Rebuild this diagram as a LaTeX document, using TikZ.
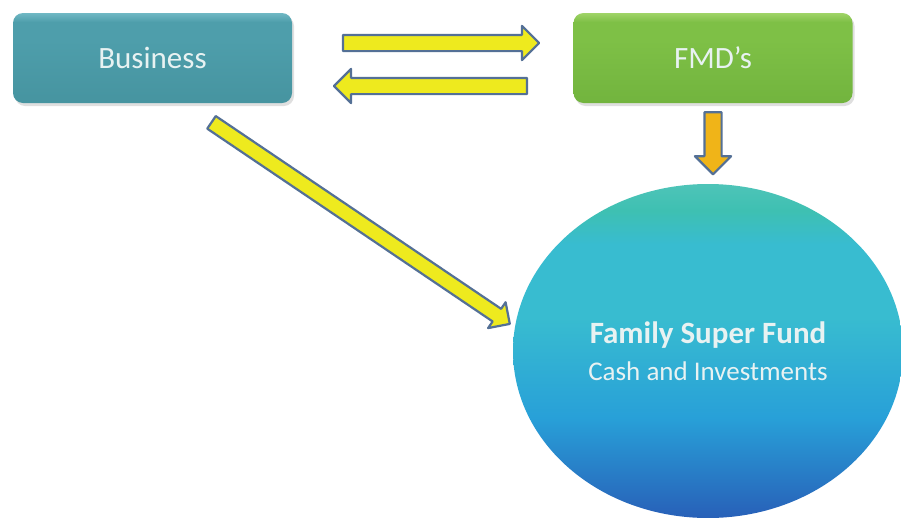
\documentclass[tikz,border=0pt]{standalone}
\usepackage{fontspec}
\setmainfont{Carlito}
\usetikzlibrary{shapes.geometric,shapes.arrows,shadows}
\definecolor{bizT}{RGB}{112,184,196}
\definecolor{bizM}{RGB}{78,158,171}
\definecolor{bizB}{RGB}{70,148,160}
\definecolor{fmdT}{RGB}{160,212,104}
\definecolor{fmdM}{RGB}{126,192,70}
\definecolor{fmdB}{RGB}{114,180,62}
\definecolor{yell}{RGB}{238,234,30}
\definecolor{oran}{RGB}{240,180,24}
\definecolor{edgeblue}{RGB}{84,112,150}
\definecolor{txtw}{RGB}{232,242,242}
\definecolor{fundT}{RGB}{78,196,184}
\definecolor{fundA}{RGB}{62,192,178}
\definecolor{fundB}{RGB}{56,188,208}
\definecolor{fundC}{RGB}{40,160,216}
\definecolor{fundD}{RGB}{40,96,184}
\pgfdeclareverticalshading{fundshade}{100bp}{color(0bp)=(fundD); color(25bp)=(fundD); color(40bp)=(fundC); color(55bp)=(fundB); color(66bp)=(fundB); color(71bp)=(fundA); color(75bp)=(fundT); color(100bp)=(fundT)}
\pgfdeclareverticalshading{bizshade}{100bp}{color(0bp)=(bizB); color(25bp)=(bizB); color(60bp)=(bizM); color(70bp)=(bizM); color(75bp)=(bizT); color(100bp)=(bizT)}
\pgfdeclareverticalshading{fmdshade}{100bp}{color(0bp)=(fmdB); color(25bp)=(fmdB); color(60bp)=(fmdM); color(70bp)=(fmdM); color(75bp)=(fmdT); color(100bp)=(fmdT)}
\begin{document}
\begin{tikzpicture}[x=1pt,y=-1pt,
  boxbase/.style={rectangle, rounded corners=10pt, minimum width=279pt, minimum height=90pt,
    inner sep=0pt, text=txtw, font=\fontsize{31}{36}\selectfont,
    drop shadow={shadow xshift=2pt, shadow yshift=-3pt, opacity=0.25}},
  bizbox/.style={boxbase, shading=bizshade},
  fmdbox/.style={boxbase, shading=fmdshade},
  fundnode/.style={ellipse, minimum width=390pt, minimum height=334pt, inner sep=0pt,
    shading=fundshade, text=txtw, align=center, font=\fontsize{27}{37}\selectfont},
  blockarrow/.style={single arrow, inner xsep=0pt, draw=edgeblue, line width=2.2pt,
    line join=round, single arrow head indent=0pt},
  yarrow/.style={blockarrow, fill=yell, inner ysep=7pt, single arrow head extend=9pt},
  oarrow/.style={blockarrow, fill=oran, inner ysep=7.5pt, single arrow head extend=9.5pt}
]
\useasboundingbox (0,0) rectangle (901,517);
\fill[white] (0,0) rectangle (901,517);

\node[bizbox] (b) at (152.5,58) {Business};
\node[fmdbox] (f) at (713,58) {FMD’s};
\node[fundnode] (e) at (708,351) {{\fontsize{31}{37}\selectfont\bfseries Family Super Fund}\\Cash and Investments};

\coordinate (r1) at (339,43);
\coordinate (r2) at (535,43);
\coordinate (l1) at (531,86);
\coordinate (l2) at (338,86);
\coordinate (d1) at (713,108);
\coordinate (d2) at (713,170);
\coordinate (s1) at (208,120);
\coordinate (s2) at (507,322);

\path (r1) -- (r2) node[midway, sloped, allow upside down, yarrow, minimum height=196pt] (a1) {};
\path (l1) -- (l2) node[midway, sloped, allow upside down, yarrow, minimum height=193pt] (a2) {};
\path (d1) -- (d2) node[midway, sloped, allow upside down, oarrow, minimum height=62pt] (a3) {};
\path (s1) -- (s2) node[midway, sloped, allow upside down, yarrow, inner ysep=6.5pt, single arrow head extend=8pt, minimum height=360pt] (a4) {};
\end{tikzpicture}
\end{document}
